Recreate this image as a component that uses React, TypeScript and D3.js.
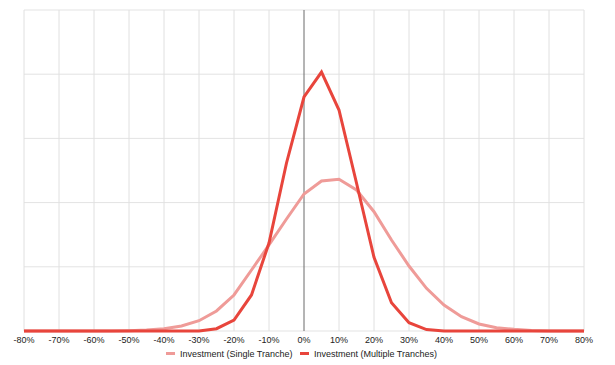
import React from "react";
import * as d3 from "d3";

const returns = [-80,-75,-70,-65,-60,-55,-50,-45,-40,-35,-30,-25,-20,-15,-10,-5,0,5,10,15,20,25,30,35,40,45,50,55,60,65,70,75,80];
const singleTranche = [0,0,0,0,0,0,0.005,0.016,0.036,0.078,0.16,0.312,0.561,0.95,1.34,1.745,2.134,2.336,2.363,2.196,1.858,1.417,1.012,0.665,0.405,0.223,0.109,0.051,0.026,0.008,0,0,0];
const multipleTranches = [0,0,0,0,0,0,0,0,0,0,0,0.036,0.171,0.561,1.371,2.617,3.645,4.034,3.442,2.305,1.148,0.441,0.129,0.023,0,0,0,0,0,0,0,0,0];
const xTicks = [-80,-70,-60,-50,-40,-30,-20,-10,0,10,20,30,40,50,60,70,80];
const yTicks = [0,1,2,3,4,5];
const seriesNames = ["Investment (Single Tranche)", "Investment (Multiple Tranches)"];
const seriesColors = ["#ef9b98", "#e8453c"];

const W = 615, H = 365;
const left = 24, right = 584, top = 10, bottom = 331;

export default function App() {
  const x = d3.scaleLinear().domain([-80, 80]).range([left, right]);
  const y = d3.scaleLinear().domain([0, 5]).range([bottom, top]);
  const line = d3.line<number>().x((_, i) => x(returns[i])).y((d) => y(d));
  const series = [singleTranche, multipleTranches];
  const font = "Arial, 'Liberation Sans', sans-serif";
  const legendX = [166, 300];
  return (
    <svg width={W} height={H} style={{ position: "absolute", left: 0, top: 0, display: "block" }}>
      <rect width={W} height={H} fill="#fff" />
      {yTicks.map((t) => (
        <line key={"h" + t} x1={left} x2={right} y1={y(t)} y2={y(t)} stroke="#e3e3e3" strokeWidth={1} />
      ))}
      {xTicks.map((t) => (
        <line key={"v" + t} x1={x(t)} x2={x(t)} y1={top} y2={bottom} stroke={t === 0 ? "#6b6b6b" : "#e0e0e0"} strokeWidth={1} />
      ))}
      {series.map((s, i) => (
        <path key={"s" + i} d={line(s) || ""} fill="none" stroke={seriesColors[i]} strokeWidth={3} strokeLinejoin="miter" />
      ))}
      {xTicks.map((t) => (
        <text key={"t" + t} x={x(t)} y={342.5} textAnchor="middle" fontFamily={font} fontSize={9} fill="#222">
          {t + "%"}
        </text>
      ))}
      {seriesNames.map((n, i) => (
        <g key={"l" + i}>
          <rect x={legendX[i]} y={352} width={9} height={3} fill={seriesColors[i]} />
          <text x={legendX[i] + 14} y={356.5} fontFamily={font} fontSize={9} fill="#222">{n}</text>
        </g>
      ))}
    </svg>
  );
}
